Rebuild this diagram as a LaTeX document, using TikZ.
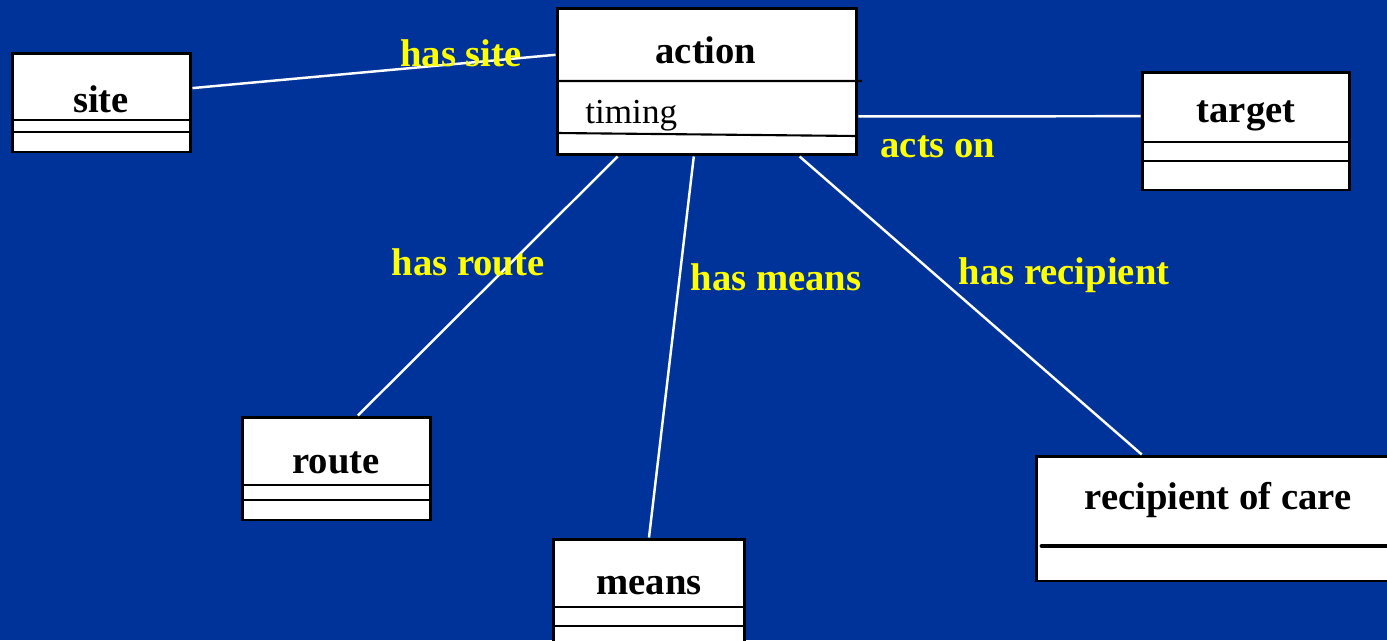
\documentclass[tikz,border=0pt]{standalone}
\usepackage{fontspec}
\setmainfont{Liberation Serif}
\usepackage{xcolor}
\definecolor{slideblue}{RGB}{0,51,153}
\definecolor{labelyellow}{RGB}{255,255,0}

\begin{document}
\begin{tikzpicture}[x=0.02cm,y=-0.02cm,
    classbox/.style={draw=black,fill=white,line width=1.7pt,inner sep=0pt},
    classname/.style={font=\fontsize{22}{24}\selectfont\bfseries,text=black},
    compart/.style={black,line width=1.2pt},
    assoc/.style={white,line width=1.4pt},
    assoclabel/.style={font=\fontsize{22}{24}\selectfont\bfseries,text=labelyellow}]
\fill[slideblue] (0,0) rectangle (1387,640);
\useasboundingbox (0,0) rectangle (1387,640);
\clip (0,0) rectangle (1387,640);

% classes
\node[classbox,minimum width=3.58cm,minimum height=1.98cm] (site) at (101.5,102.5) {};
\node[classbox,minimum width=6cm,minimum height=2.94cm] (action) at (707,81.5) {};
\node[classbox,minimum width=4.16cm,minimum height=2.36cm] (target) at (1246,131) {};
\node[classbox,minimum width=3.78cm,minimum height=2.06cm] (route) at (336.5,468.5) {};
\node[classbox,minimum width=3.84cm,minimum height=2.42cm] (means) at (649,599.5) {};
\node[classbox,minimum width=7.28cm,minimum height=2.5cm] (recipient) at (1218,518.5) {};

\node[classname] (siteName) at (101,99) {site};
\node[classname] (actionName) at (706,50) {action};
\node[classname] (targetName) at (1246,116) {target};
\node[classname] (routeName) at (336,463) {route};
\node[classname] (meansName) at (649,586) {means};
\node[classname] (recipientName) at (1218,500) {recipient of care};
\node[font=\fontsize{20}{22}\selectfont,anchor=west,inner sep=0pt] (timing) at (585,116) {timing};

% compartments
\draw[compart] (12,120) -- (191,120) (12,132) -- (191,132);
\draw[compart] (557,81) -- (862,81) (557,133) -- (857,136);
\draw[compart] (1142,142) -- (1350,142) (1142,161) -- (1350,161);
\draw[compart] (242,485) -- (431,485) (242,500) -- (431,500);
\draw[compart] (553,607) -- (745,607) (553,626) -- (745,626);
\draw[black,line width=2.8pt,line cap=round] (1042,546) -- (1400,546);

% associations
\draw[assoc] (site.9) -- (action.170);
\draw[assoc] (action.-13) -- (target.172);
\draw[assoc] (action.220) -- (route.68);
\draw[assoc] (action.260) -- (means.north);
\draw[assoc] (action.321) -- (recipient.140);

\node[assoclabel] (hasSite) at (461,53) {has site};
\node[assoclabel] (actsOn) at (938,147) {acts on};
\node[assoclabel] (hasRoute) at (468,262) {has route};
\node[assoclabel] (hasMeans) at (776,277) {has means};
\node[assoclabel] (hasRecipient) at (1064,275) {has recipient};
\end{tikzpicture}
\end{document}
